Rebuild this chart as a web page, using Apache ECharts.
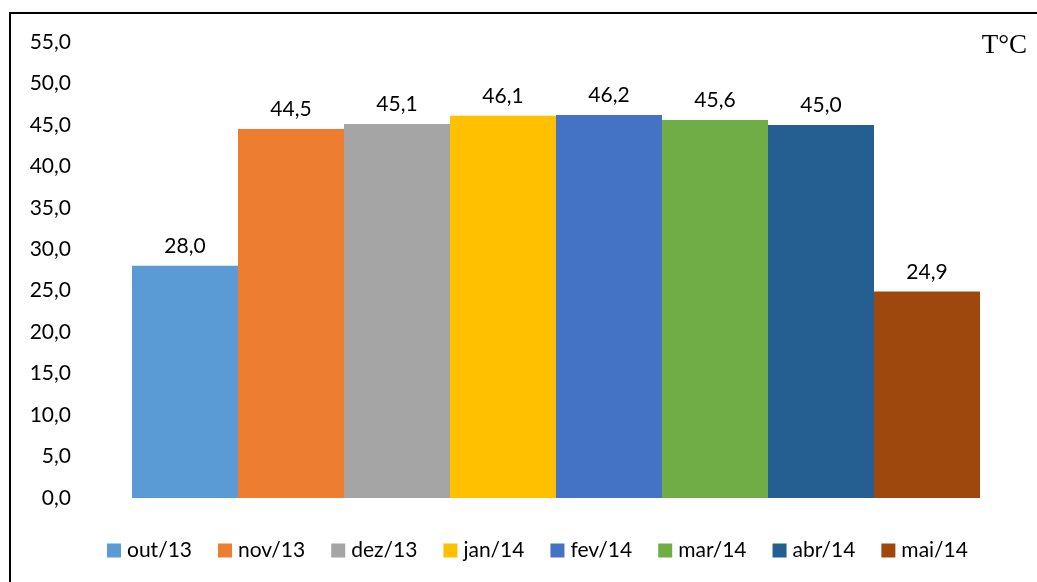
<!DOCTYPE html>
<html>
<head>
<meta charset="utf-8">
<script src="https://cdn.jsdelivr.net/npm/echarts@6/dist/echarts.min.js"></script>
<style>
  html, body { margin: 0; padding: 0; background: #fff; }
  #chart { width: 1037px; height: 582px; }
</style>
</head>
<body>
<div id="chart"></div>
<script>
// Monthly maximum temperature (°C)
const months = ['out/13', 'nov/13', 'dez/13', 'jan/14', 'fev/14', 'mar/14', 'abr/14', 'mai/14'];
const temps = [28.0, 44.5, 45.1, 46.1, 46.2, 45.6, 45.0, 24.9];
const colors = ['#5B9BD5', '#ED7D31', '#A5A5A5', '#FFC000', '#4472C4', '#70AD47', '#255E91', '#9E480E'];

const fmt = v => v.toFixed(1).replace('.', ',');
const font = 'Lato, "Open Sans", sans-serif';

const chart = echarts.init(document.getElementById('chart'));
chart.setOption({
  animation: false,
  textStyle: { fontFamily: font },
  grid: { left: 132, right: 57, top: 42, bottom: 84 },
  xAxis: {
    type: 'category',
    data: [''],
    axisLine: { show: false },
    axisTick: { show: false },
    axisLabel: { show: false }
  },
  yAxis: {
    type: 'value',
    min: 0,
    max: 55,
    interval: 5,
    splitLine: { show: false },
    axisLine: { show: false },
    axisTick: { show: false },
    axisLabel: {
      margin: 61,
      fontSize: 21,
      color: '#000',
      fontFamily: font,
      formatter: v => fmt(v)
    }
  },
  legend: {
    bottom: 16,
    left: 102,
    itemWidth: 14,
    itemHeight: 14,
    itemGap: 26,
    icon: 'rect',
    textStyle: { fontSize: 21, color: '#000', fontFamily: font, padding: [0, 0, 0, 1] },
    data: months
  },
  graphic: [
    {
      type: 'rect',
      shape: { x: 10, y: 13, width: 1060, height: 620 },
      style: { fill: 'none', stroke: '#000', lineWidth: 2 },
      silent: true
    },
    {
      type: 'text',
      right: 10,
      top: 32,
      style: { text: 'T°C', fontSize: 27, fontFamily: '"Liberation Serif", "DejaVu Serif", serif', fill: '#000' }
    }
  ],
  series: months.map((m, i) => ({
    name: m,
    type: 'bar',
    data: [temps[i]],
    barGap: 0,
    barCategoryGap: 0,
    itemStyle: { color: colors[i] },
    label: {
      show: true,
      position: 'top',
      distance: 9,
      fontSize: 21,
      color: '#000',
      fontFamily: font,
      formatter: p => fmt(p.value)
    }
  }))
});
</script>
</body>
</html>
